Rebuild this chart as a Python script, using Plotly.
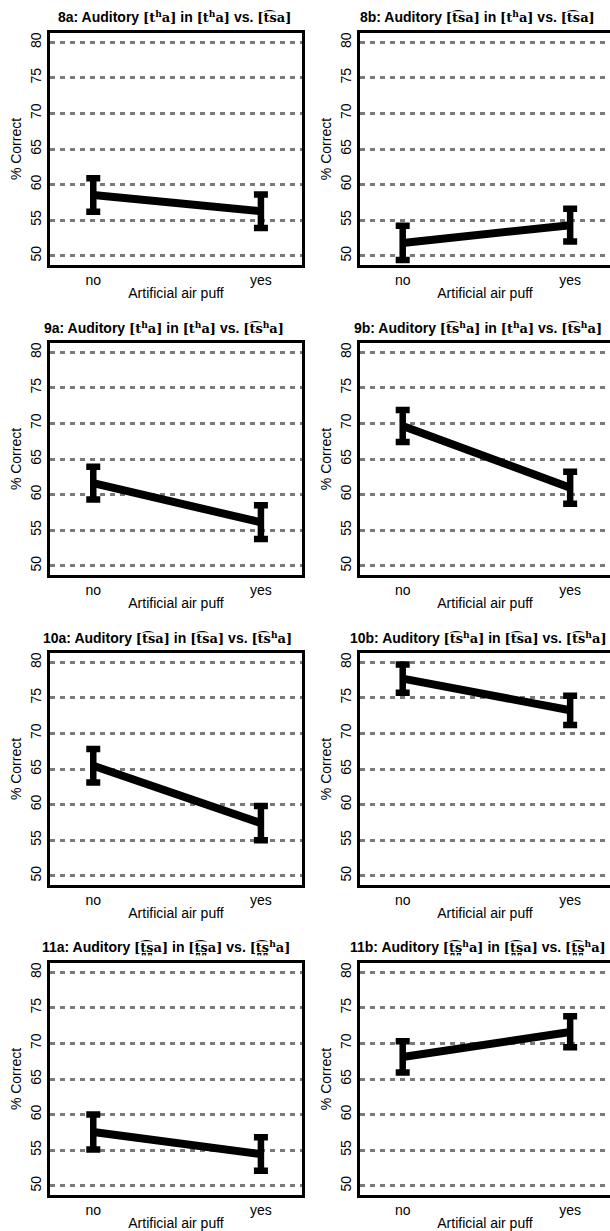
import plotly.graph_objects as go

# ---------------- data ----------------
categories = ["no", "yes"]
panel_ids = ["8a", "8b", "9a", "9b", "10a", "10b", "11a", "11b"]

mean_8a = [58.55, 56.25]
lo_8a = [56.2, 53.9]
hi_8a = [60.9, 58.6]

mean_8b = [51.8, 54.3]
lo_8b = [49.4, 52.0]
hi_8b = [54.2, 56.6]

mean_9a = [61.6, 56.1]
lo_9a = [59.3, 53.75]
hi_9a = [63.9, 58.5]

mean_9b = [69.65, 60.95]
lo_9b = [67.4, 58.7]
hi_9b = [71.9, 63.2]

mean_10a = [65.45, 57.4]
lo_10a = [63.1, 55.0]
hi_10a = [67.8, 59.8]

mean_10b = [77.7, 73.25]
lo_10b = [75.7, 71.2]
hi_10b = [79.7, 75.3]

mean_11a = [57.55, 54.45]
lo_11a = [55.1, 52.1]
hi_11a = [60.0, 56.8]

mean_11b = [68.1, 71.6]
lo_11b = [65.9, 69.45]
hi_11b = [70.3, 73.8]

y_ticks = [50, 55, 60, 65, 70, 75, 80]

# IPA labels
def ipa(s):
    return '<span style="font-family:DejaVu Serif, serif;font-size:13px">' + s + '</span>'

ASP = '<sup>h</sup>'
TH = ipa("[t" + ASP + "a]")
TS = ipa("[t\u0361sa]")
TSH = ipa("[t\u0361s" + ASP + "a]")
TSD = ipa("[t\u032a\u0361s\u032aa]")
TSDH = ipa("[t\u032a\u0361s\u032a" + ASP + "a]")

titles = [
    f"8a: Auditory {TH} in {TH} vs. {TS}",
    f"8b: Auditory {TS} in {TH} vs. {TS}",
    f"9a: Auditory {TH} in {TH} vs. {TSH}",
    f"9b: Auditory {TSH} in {TH} vs. {TSH}",
    f"10a: Auditory {TS} in {TS} vs. {TSH}",
    f"10b: Auditory {TSH} in {TS} vs. {TSH}",
    f"11a: Auditory {TSD} in {TSD} vs. {TSDH}",
    f"11b: Auditory {TSDH} in {TSD} vs. {TSDH}",
]

means = [mean_8a, mean_8b, mean_9a, mean_9b, mean_10a, mean_10b, mean_11a, mean_11b]
los = [lo_8a, lo_8b, lo_9a, lo_9b, lo_10a, lo_10b, lo_11a, lo_11b]
his = [hi_8a, hi_8b, hi_9a, hi_9b, hi_10a, hi_10b, hi_11a, hi_11b]

# ---------------- layout geometry ----------------
W, H = 610, 1231
row_top = [33, 343, 653, 963]
row_bot = [265, 575, 885, 1195]
col_left = [50, 360]
col_right = [302, 610]
x_ranges = [[-0.258, 1.245], [-0.255, 1.238]]
title_cx = [174, 477, 164, 478, 167, 478, 166, 478]

FONT = "Liberation Sans, Arial, Helvetica, sans-serif"

fig = go.Figure()
layout = dict(
    width=W, height=H, autosize=False,
    margin=dict(l=0, r=0, t=0, b=0),
    paper_bgcolor="white", plot_bgcolor="white",
    showlegend=False,
    font=dict(family=FONT, size=14, color="black"),
    annotations=[],
)

for i, pid in enumerate(panel_ids):
    r, c = divmod(i, 2)
    n = i + 1
    xa = "x" if n == 1 else f"x{n}"
    ya = "y" if n == 1 else f"y{n}"
    m, lo, hi = means[i], los[i], his[i]
    fig.add_trace(go.Scatter(
        x=categories, y=m, mode="lines",
        line=dict(color="black", width=8),
        error_y=dict(type="data", symmetric=False,
                     array=[h - v for h, v in zip(hi, m)],
                     arrayminus=[v - l for v, l in zip(m, lo)],
                     color="black", thickness=6.5, width=7),
        xaxis=xa, yaxis=ya, hoverinfo="skip",
    ))
    xkey = "xaxis" if n == 1 else f"xaxis{n}"
    ykey = "yaxis" if n == 1 else f"yaxis{n}"
    layout[xkey] = dict(
        domain=[col_left[c] / W, col_right[c] / W],
        anchor=ya, type="category", range=x_ranges[c],
        showgrid=False, zeroline=False,
        showline=True, linewidth=3, linecolor="black", mirror=True,
        ticks="", tickfont=dict(size=14, family=FONT, color="black"),
        title=dict(text="Artificial air puff", font=dict(size=14, family=FONT, color="black"), standoff=2),
        automargin=False, fixedrange=True,
    )
    layout[ykey] = dict(
        domain=[1 - row_bot[r] / H, 1 - row_top[r] / H],
        anchor=xa, range=[48.7, 81.3],
        tickvals=y_ticks, ticktext=[str(v) for v in y_ticks], tickangle=-90,
        showgrid=True, gridcolor="#7a7a7a", gridwidth=2.5, griddash="5px,5px",
        zeroline=False,
        showline=True, linewidth=3, linecolor="black", mirror=(c == 0),
        ticks="", tickfont=dict(size=14, family=FONT, color="black"),
        title=dict(text="% Correct", font=dict(size=14, family=FONT, color="black"), standoff=4),
        automargin=False, fixedrange=True,
    )
    layout["annotations"].append(dict(
        text=titles[i], xref="paper", yref="paper",
        x=title_cx[i] / W, y=1 - (row_top[r] - 16) / H,
        xanchor="center", yanchor="middle", showarrow=False,
        font=dict(size=14, family=FONT, color="black", weight="bold"),
    ))

fig.update_layout(**layout)
fig.write_html("out.html")
